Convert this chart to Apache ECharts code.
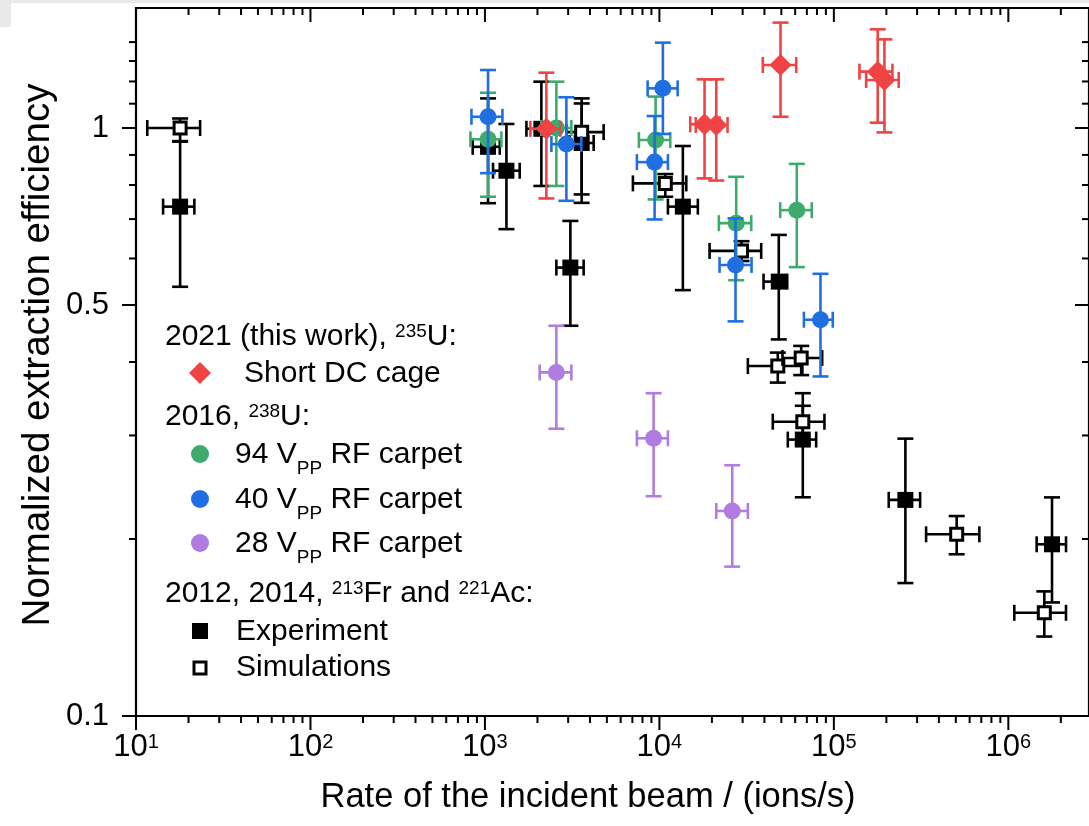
<!DOCTYPE html>
<html>
<head>
<meta charset="utf-8">
<script src="https://cdn.jsdelivr.net/npm/echarts@6/dist/echarts.min.js"></script>
<style>
html,body{margin:0;padding:0;background:#fff;}
#chart{width:1089px;height:826px;}
</style>
</head>
<body>
<div id="chart"></div>
<script>
// ---- axis extents & ticks ----
const X_MIN = 10, X_MAX = 2.9e6;
const Y_MIN = 0.1, Y_MAX = 1.6;
const xMajorTicks = [10, 100, 1e3, 1e4, 1e5, 1e6];
const xMinorMultipliers = [2, 3, 4, 5, 6, 7, 8, 9];
const xMinorDecades = [10, 100, 1e3, 1e4, 1e5, 1e6];
const yMajorTicks = [0.1, 0.5, 1];
const yTickLabels = ['0.1', '0.5', '1'];
const yMinorTicks = [0.2, 0.3, 0.4, 0.6, 0.7, 0.8, 0.9, 1.1, 1.2, 1.3, 1.4];

// ---- data: [rate, efficiency, rateLow, rateHigh, effLow, effHigh] ----
const experiment = [
  [17.9, 0.735, 14.3, 21.6, 0.537, 0.95],
  [1042, 0.929, 851, 1216, 0.745, 1.123],
  [1328, 0.846, 1113, 1582, 0.673, 1.016],
  [2106, 0.997, 1729, 2578, 0.797, 1.199],
  [3585, 0.943, 3060, 4200, 0.746, 1.123],
  [3088, 0.579, 2567, 3680, 0.461, 0.695],
  [13630, 0.735, 11190, 16610, 0.530, 0.932],
  [48340, 0.548, 39530, 54020, 0.437, 0.658],
  [66370, 0.2952, 54450, 79170, 0.2355, 0.337],
  [257000, 0.2331, 206300, 312200, 0.1683, 0.2963],
  [1.78e6, 0.1959, 1.453e6, 2.141e6, 0.156, 0.2354]
];
const simulation = [
  [17.9, 1.0, 11.6, 23.3, 0.948, 1.038],
  [3585, 0.984, 2930, 4790, 0.771, 1.101],
  [10810, 0.805, 7050, 14260, 0.764, 0.835],
  [29570, 0.618, 19390, 38330, 0.594, 0.642],
  [47710, 0.3937, 32140, 66000, 0.369, 0.415],
  [64970, 0.4064, 50770, 85700, 0.380, 0.426],
  [66370, 0.3166, 44670, 88310, 0.29, 0.354],
  [505800, 0.2037, 337800, 682300, 0.1884, 0.2188],
  [1.608e6, 0.1498, 1.082e6, 2.141e6, 0.1365, 0.1629]
];
const rf94 = [
  [1042, 0.957, 826, 1243, 0.764, 1.148],
  [2567, 1.0, 2106, 3129, 0.797, 1.199],
  [9511, 0.954, 7630, 11540, 0.756, 1.131],
  [27560, 0.689, 21920, 33600, 0.551, 0.826],
  [61320, 0.725, 49250, 74700, 0.580, 0.869]
];
const rf40 = [
  [1042, 1.045, 837, 1260, 0.838, 1.255],
  [2930, 0.939, 2404, 3570, 0.752, 1.128],
  [10470, 1.168, 8560, 12720, 0.977, 1.397],
  [9387, 0.875, 7430, 11190, 0.699, 1.048],
  [27310, 0.585, 22120, 33740, 0.469, 0.702],
  [83810, 0.472, 67330, 98550, 0.378, 0.565]
];
const rf28 = [
  [2567, 0.384, 2060, 3129, 0.308, 0.461],
  [9265, 0.2967, 7430, 11190, 0.2365, 0.354],
  [26150, 0.2232, 21180, 32140, 0.1795, 0.267]
];
const dcCage = [
  [2250, 0.997, 1822, 2706, 0.759, 1.242],
  [18150, 1.015, 15030, 22120, 0.821, 1.21],
  [21180, 1.012, 16160, 24580, 0.814, 1.21],
  [49460, 1.28, 39150, 60840, 1.045, 1.511],
  [178400, 1.247, 140200, 216600, 1.021, 1.472],
  [194900, 1.207, 153100, 235300, 0.983, 1.415]
];

const FONT = "'Liberation Sans', Arial, sans-serif";
const C_RED = '#f04343', C_GREEN = '#3cab6b', C_BLUE = '#1f6fe3', C_PURPLE = '#b07cdf', C_BLACK = '#000';

function makeRender(shape, color) {
  return function (params, api) {
    const x = api.value(0), y = api.value(1);
    const c = api.coord([x, y]);
    const xl = api.coord([api.value(2), y])[0];
    const xh = api.coord([api.value(3), y])[0];
    const yl = api.coord([x, api.value(4)])[1];
    const yh = api.coord([x, api.value(5)])[1];
    const cap = 8, lw = 2.6;
    const st = { stroke: color, lineWidth: lw };
    const ch = [
      { type: 'line', shape: { x1: c[0], y1: yh, x2: c[0], y2: yl }, style: st },
      { type: 'line', shape: { x1: c[0] - cap, y1: yh, x2: c[0] + cap, y2: yh }, style: st },
      { type: 'line', shape: { x1: c[0] - cap, y1: yl, x2: c[0] + cap, y2: yl }, style: st },
      { type: 'line', shape: { x1: xl, y1: c[1], x2: xh, y2: c[1] }, style: st },
      { type: 'line', shape: { x1: xl, y1: c[1] - cap, x2: xl, y2: c[1] + cap }, style: st },
      { type: 'line', shape: { x1: xh, y1: c[1] - cap, x2: xh, y2: c[1] + cap }, style: st }
    ];
    if (shape === 'circle') {
      ch.push({ type: 'circle', shape: { cx: c[0], cy: c[1], r: 8.5 }, style: { fill: color } });
    } else if (shape === 'square') {
      ch.push({ type: 'rect', shape: { x: c[0] - 8, y: c[1] - 8, width: 16, height: 16 }, style: { fill: color } });
    } else if (shape === 'open') {
      ch.push({ type: 'rect', shape: { x: c[0] - 6, y: c[1] - 6, width: 12, height: 12 }, style: { fill: '#fff', stroke: color, lineWidth: 3 } });
    } else if (shape === 'diamond') {
      const d = 11;
      ch.push({ type: 'polygon', shape: { points: [[c[0], c[1] - d], [c[0] + d, c[1]], [c[0], c[1] + d], [c[0] - d, c[1]]] }, style: { fill: color } });
    }
    return { type: 'group', children: ch };
  };
}

function errSeries(name, data, shape, color) {
  return { type: 'custom', name: name, data: data, renderItem: makeRender(shape, color), encode: { x: 0, y: 1 }, clip: true, silent: true };
}

// tick data: [xValue, yValue, orient(0=x,1=y), major]
const tickData = [];
xMajorTicks.forEach(v => tickData.push([v, 1, 0, 1]));
xMinorDecades.forEach(d => xMinorMultipliers.forEach(m => { if (m * d < X_MAX) tickData.push([m * d, 1, 0, 0]); }));
yMajorTicks.forEach(v => tickData.push([10, v, 1, 1]));
yMinorTicks.forEach(v => tickData.push([10, v, 1, 0]));
const yLabelData = yMajorTicks.map((v, i) => [10, v, i]);

const option = {
  backgroundColor: '#fff',
  animation: false,
  grid: { left: 136, right: -1, top: 8, bottom: 110, show: true, borderColor: '#000', borderWidth: 2.2, backgroundColor: 'transparent' },
  xAxis: {
    type: 'log', logBase: 10, min: X_MIN, max: X_MAX,
    axisLine: { show: false }, axisTick: { show: false }, splitLine: { show: false },
    axisLabel: {
      showMaxLabel: false, margin: 16, color: '#000', fontSize: 31, fontFamily: FONT,
      formatter: v => '10{sup|' + Math.round(Math.log10(v)) + '}',
      rich: { sup: { fontSize: 20, verticalAlign: 'top', color: '#000', fontFamily: FONT } }
    }
  },
  yAxis: {
    type: 'log', logBase: 10, min: Y_MIN, max: Y_MAX,
    axisLine: { show: false }, axisTick: { show: false }, splitLine: { show: false }, axisLabel: { show: false }
  },
  series: [
    {
      type: 'custom', data: tickData, silent: true, clip: false, z: 5,
      renderItem: function (params, api) {
        const cs = params.coordSys;
        const L = cs.x, T = cs.y, R = cs.x + cs.width, B = cs.y + cs.height;
        const len = api.value(3) ? 14 : 7;
        const st = { stroke: '#000', lineWidth: 2 };
        if (api.value(2) === 0) {
          const px = api.coord([api.value(0), 1])[0];
          return { type: 'group', children: [
            { type: 'line', shape: { x1: px, y1: B, x2: px, y2: B + len }, style: st },
            { type: 'line', shape: { x1: px, y1: T, x2: px, y2: T + len }, style: st }
          ] };
        }
        const py = api.coord([10, api.value(1)])[1];
        return { type: 'group', children: [
          { type: 'line', shape: { x1: L - len, y1: py, x2: L, y2: py }, style: st },
          { type: 'line', shape: { x1: R - len, y1: py, x2: R, y2: py }, style: st }
        ] };
      }
    },
    {
      type: 'custom', data: yLabelData, silent: true, clip: false,
      renderItem: function (params, api) {
        const cs = params.coordSys;
        const py = api.coord([10, api.value(1)])[1];
        return { type: 'text', x: cs.x - 27, y: py, style: { text: yTickLabels[api.value(2)], textAlign: 'right', textVerticalAlign: 'middle', fontSize: 31, fontFamily: FONT, fill: '#000' } };
      }
    },
    errSeries('Experiment', experiment, 'square', C_BLACK),
    errSeries('Simulations', simulation, 'open', C_BLACK),
    errSeries('94 VPP RF carpet', rf94, 'circle', C_GREEN),
    errSeries('40 VPP RF carpet', rf40, 'circle', C_BLUE),
    errSeries('28 VPP RF carpet', rf28, 'circle', C_PURPLE),
    errSeries('Short DC cage', dcCage, 'diamond', C_RED)
  ],
  graphic: [
    { type: 'rect', z: -10, shape: { x: 0, y: 0, width: 1089, height: 3 }, style: { fill: '#e9e9e9' } },
    { type: 'rect', z: -10, shape: { x: 0, y: 0, width: 11, height: 27 }, style: { fill: '#e9e9e9' } },
    { type: 'text', x: 588, y: 797, style: { text: 'Rate of the incident beam / (ions/s)', textAlign: 'center', textVerticalAlign: 'middle', fontSize: 34.5, fontFamily: FONT, fill: '#000' } },
    { type: 'text', x: 38, y: 355, rotation: Math.PI / 2, style: { text: 'Normalized extraction efficiency', textAlign: 'center', textVerticalAlign: 'middle', fontSize: 38.5, fontFamily: FONT, fill: '#000' } },
    // legend
    { type: 'group', children: (function () {
      const sup = { fontSize: 19, verticalAlign: 'top', fontFamily: FONT, fill: '#000' };
      const sub = { fontSize: 19, verticalAlign: 'bottom', lineHeight: 46, fontFamily: FONT, fill: '#000' };
      const base = { fontSize: 30, fontFamily: FONT, fill: '#000', textVerticalAlign: 'middle', rich: { sup: sup, sub: sub } };
      function t(x, y, s) { return { type: 'text', x: x, y: y, style: Object.assign({ text: s }, base) }; }
      return [
        t(165, 337, '2021 (this work), {sup|235}U:'),
        { type: 'polygon', shape: { points: [[200, 362], [211, 373], [200, 384], [189, 373]] }, style: { fill: C_RED } },
        t(244, 374, 'Short DC cage'),
        t(165, 417, '2016, {sup|238}U:'),
        { type: 'circle', shape: { cx: 200, cy: 454, r: 9 }, style: { fill: C_GREEN } },
        t(235, 455, '94 V{sub|PP} RF carpet'),
        { type: 'circle', shape: { cx: 200, cy: 499, r: 9 }, style: { fill: C_BLUE } },
        t(235, 500, '40 V{sub|PP} RF carpet'),
        { type: 'circle', shape: { cx: 200, cy: 543, r: 9 }, style: { fill: C_PURPLE } },
        t(235, 544, '28 V{sub|PP} RF carpet'),
        t(165, 594, '2012, 2014, {sup|213}Fr and {sup|221}Ac:'),
        { type: 'rect', shape: { x: 192, y: 623, width: 16, height: 16 }, style: { fill: '#000' } },
        t(236, 632, 'Experiment'),
        { type: 'rect', shape: { x: 194, y: 662, width: 12, height: 12 }, style: { fill: '#fff', stroke: '#000', lineWidth: 3 } },
        t(236, 668, 'Simulations')
      ];
    })() }
  ]
};
const chart = echarts.init(document.getElementById('chart'), null, { renderer: 'canvas' });
chart.setOption(option);
</script>
</body>
</html>
